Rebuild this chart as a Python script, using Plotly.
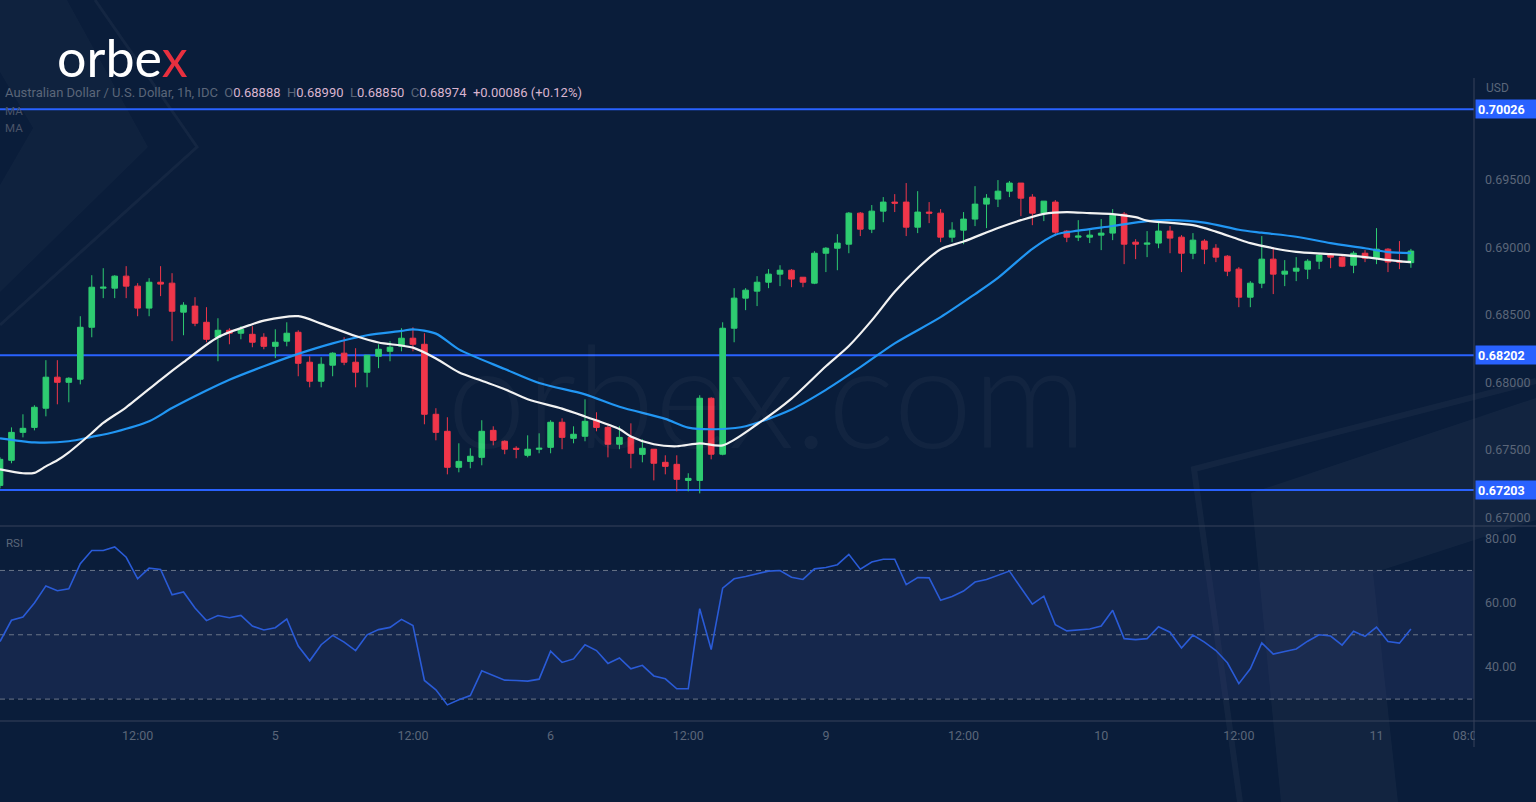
import plotly.graph_objects as go

# ---------------- data ----------------
bars = list(range(124))
opens = [0.67237, 0.67423, 0.67630, 0.67667, 0.67809, 0.68039, 0.68001, 0.68024, 0.68409, 0.68699,
         0.68699, 0.68788, 0.68714, 0.68551, 0.68743, 0.68736, 0.68521, 0.68566, 0.68446, 0.68335,
         0.68387, 0.68365, 0.68357, 0.68335, 0.68268, 0.68306, 0.68372, 0.68150, 0.68009, 0.68128,
         0.68217, 0.68150, 0.68076, 0.68194, 0.68231, 0.68268, 0.68328, 0.68283, 0.67764, 0.67638,
         0.67371, 0.67415, 0.67445, 0.67645, 0.67564, 0.67512, 0.67460, 0.67505, 0.67519, 0.67705,
         0.67586, 0.67601, 0.67720, 0.67667, 0.67542, 0.67593, 0.67467, 0.67505, 0.67408, 0.67393,
         0.67274, 0.67274, 0.67883, 0.67468, 0.68402, 0.68625, 0.68677, 0.68743, 0.68803, 0.68832,
         0.68780, 0.68736, 0.68958, 0.68995, 0.69025, 0.69255, 0.69136, 0.69270, 0.69337, 0.69337,
         0.69151, 0.69263, 0.69255, 0.69077, 0.69129, 0.69211, 0.69322, 0.69359, 0.69418, 0.69478,
         0.69374, 0.69255, 0.69337, 0.69122, 0.69077, 0.69077, 0.69092, 0.69107, 0.69248, 0.69040,
         0.69025, 0.69033, 0.69122, 0.69077, 0.68958, 0.69048, 0.68995, 0.68936, 0.68840, 0.68632,
         0.68736, 0.68914, 0.68803, 0.68825, 0.68840, 0.68899, 0.68944, 0.68929, 0.68869, 0.68958,
         0.68921, 0.68988, 0.68899, 0.68888]
highs = [0.67445, 0.67667, 0.67764, 0.67831, 0.68165, 0.68165, 0.68039, 0.68491, 0.68795, 0.68847,
         0.68795, 0.68862, 0.68736, 0.68773, 0.68862, 0.68810, 0.68595, 0.68632, 0.68558, 0.68476,
         0.68402, 0.68417, 0.68417, 0.68365, 0.68394, 0.68446, 0.68387, 0.68194, 0.68187, 0.68224,
         0.68335, 0.68254, 0.68202, 0.68283, 0.68306, 0.68402, 0.68409, 0.68365, 0.67809, 0.67742,
         0.67549, 0.67512, 0.67720, 0.67675, 0.67571, 0.67527, 0.67608, 0.67623, 0.67720, 0.67734,
         0.67675, 0.67875, 0.67779, 0.67682, 0.67675, 0.67697, 0.67579, 0.67505, 0.67460, 0.67460,
         0.67327, 0.67905, 0.67890, 0.68446, 0.68699, 0.68699, 0.68788, 0.68840, 0.68869, 0.68840,
         0.68780, 0.68973, 0.69003, 0.69099, 0.69263, 0.69263, 0.69315, 0.69374, 0.69396, 0.69478,
         0.69418, 0.69337, 0.69285, 0.69188, 0.69263, 0.69455, 0.69396, 0.69500, 0.69493, 0.69478,
         0.69396, 0.69344, 0.69352, 0.69129, 0.69203, 0.69136, 0.69211, 0.69285, 0.69263, 0.69062,
         0.69122, 0.69188, 0.69159, 0.69092, 0.69107, 0.69062, 0.69025, 0.68944, 0.68855, 0.68751,
         0.69085, 0.69003, 0.68907, 0.68929, 0.68914, 0.68958, 0.68958, 0.68936, 0.68973, 0.68981,
         0.69144, 0.68995, 0.69048, 0.68990]
lows = [0.67215, 0.67401, 0.67593, 0.67645, 0.67749, 0.67838, 0.67853, 0.67986, 0.68335, 0.68625,
        0.68625, 0.68625, 0.68491, 0.68491, 0.68640, 0.68306, 0.68350, 0.68417, 0.68298, 0.68157,
        0.68283, 0.68320, 0.68261, 0.68246, 0.68180, 0.68268, 0.68046, 0.67964, 0.67964, 0.68046,
        0.68128, 0.67964, 0.67964, 0.68106, 0.68157, 0.68231, 0.68231, 0.67690, 0.67571, 0.67319,
        0.67334, 0.67364, 0.67386, 0.67534, 0.67468, 0.67438, 0.67445, 0.67475, 0.67475, 0.67505,
        0.67549, 0.67564, 0.67638, 0.67445, 0.67505, 0.67364, 0.67408, 0.67274, 0.67319, 0.67193,
        0.67193, 0.67178, 0.67430, 0.67460, 0.68298, 0.68536, 0.68566, 0.68699, 0.68714, 0.68706,
        0.68706, 0.68729, 0.68818, 0.68832, 0.68958, 0.69085, 0.69107, 0.69188, 0.69263, 0.69085,
        0.69107, 0.69181, 0.69040, 0.69040, 0.69025, 0.69159, 0.69144, 0.69300, 0.69374, 0.69233,
        0.69166, 0.69196, 0.69085, 0.69040, 0.69048, 0.69033, 0.68981, 0.69055, 0.68877, 0.68914,
        0.68929, 0.68995, 0.68958, 0.68818, 0.68914, 0.68877, 0.68892, 0.68788, 0.68558, 0.68558,
        0.68699, 0.68655, 0.68714, 0.68751, 0.68766, 0.68840, 0.68847, 0.68855, 0.68810, 0.68892,
        0.68877, 0.68818, 0.68840, 0.68850]
closes = [0.67430, 0.67630, 0.67660, 0.67816, 0.68039, 0.68001, 0.68031, 0.68409, 0.68706, 0.68706,
          0.68788, 0.68714, 0.68551, 0.68743, 0.68729, 0.68528, 0.68573, 0.68439, 0.68320, 0.68387,
          0.68365, 0.68394, 0.68298, 0.68268, 0.68298, 0.68365, 0.68142, 0.68009, 0.68135, 0.68217,
          0.68150, 0.68076, 0.68202, 0.68246, 0.68261, 0.68328, 0.68283, 0.67764, 0.67630, 0.67371,
          0.67415, 0.67453, 0.67638, 0.67571, 0.67505, 0.67505, 0.67505, 0.67512, 0.67705, 0.67593,
          0.67616, 0.67712, 0.67667, 0.67542, 0.67593, 0.67475, 0.67512, 0.67401, 0.67378, 0.67282,
          0.67289, 0.67883, 0.67468, 0.68402, 0.68625, 0.68684, 0.68743, 0.68803, 0.68832, 0.68766,
          0.68743, 0.68958, 0.68995, 0.69033, 0.69255, 0.69136, 0.69270, 0.69337, 0.69329, 0.69151,
          0.69263, 0.69255, 0.69077, 0.69129, 0.69211, 0.69322, 0.69366, 0.69418, 0.69478, 0.69366,
          0.69255, 0.69344, 0.69114, 0.69077, 0.69085, 0.69092, 0.69107, 0.69240, 0.69025, 0.69025,
          0.69033, 0.69122, 0.69070, 0.68958, 0.69055, 0.68988, 0.68929, 0.68825, 0.68632, 0.68736,
          0.68914, 0.68803, 0.68825, 0.68847, 0.68899, 0.68944, 0.68929, 0.68862, 0.68958, 0.68921,
          0.68988, 0.68892, 0.68892, 0.68974]

ma_fast_bars = [0, 2, 3, 4, 5, 6, 8, 9, 11, 14, 16, 19, 22, 23, 26, 28, 31, 33, 36, 38, 40, 42, 44,
                46, 49, 51, 54, 55, 57, 59, 61, 63, 66, 69, 72, 74, 76, 78, 80, 82, 84, 87, 89, 91,
                93, 95, 97, 99, 100, 104, 106, 108, 109, 111, 113, 116, 119, 121, 123]
ma_fast = [0.67356, 0.67327, 0.67330, 0.67378, 0.67423, 0.67482, 0.67625, 0.67700, 0.67816, 0.68020,
           0.68150, 0.68335, 0.68432, 0.68458, 0.68491, 0.68436, 0.68344, 0.68296, 0.68258, 0.68178,
           0.68075, 0.68012, 0.67950, 0.67875, 0.67806, 0.67748, 0.67655, 0.67600, 0.67542, 0.67527,
           0.67549, 0.67534, 0.67690, 0.67880, 0.68120, 0.68270, 0.68460, 0.68672, 0.68847, 0.68988,
           0.69045, 0.69145, 0.69203, 0.69250, 0.69263, 0.69255, 0.69248, 0.69225, 0.69200, 0.69166,
           0.69118, 0.69060, 0.69033, 0.68995, 0.68968, 0.68951, 0.68929, 0.68907, 0.68892]

ma_slow_bars = [0, 3, 6, 8, 10, 13, 15, 18, 20, 23, 26, 29, 32, 35, 36, 38, 40, 44, 47, 51, 54, 58,
                60, 63, 65, 69, 72, 75, 78, 82, 85, 87, 90, 92, 94, 97, 100, 102, 105, 108, 110,
                113, 116, 119, 121, 123]
ma_slow = [0.67586, 0.67556, 0.67564, 0.67597, 0.67633, 0.67712, 0.67810, 0.67940, 0.68020, 0.68120,
           0.68212, 0.68290, 0.68350, 0.68382, 0.68394, 0.68362, 0.68245, 0.68100, 0.67996, 0.67912,
           0.67820, 0.67730, 0.67665, 0.67655, 0.67675, 0.67800, 0.67945, 0.68113, 0.68290, 0.68484,
           0.68655, 0.68775, 0.68990, 0.69095, 0.69125, 0.69160, 0.69196, 0.69203, 0.69185, 0.69132,
           0.69110, 0.69080, 0.69033, 0.68995, 0.68966, 0.68958]

rsi = [47.9, 54.5, 55.5, 59.9, 65.2, 63.7, 64.3, 72.1, 76.2, 76.2,
       77.3, 74.1, 67.4, 70.7, 70.3, 62.4, 63.3, 58.3, 54.4, 56.0,
       55.3, 56.0, 52.7, 51.5, 52.2, 54.9, 46.5, 41.9, 46.9, 49.8,
       47.7, 45.1, 50.0, 51.6, 52.3, 54.8, 52.9, 35.8, 32.9, 28.2,
       29.8, 31.1, 38.8, 37.4, 35.9, 35.8, 35.6, 36.2, 44.9, 41.4,
       42.5, 46.9, 45.1, 41.1, 42.8, 39.4, 40.5, 37.2, 36.3, 33.2,
       33.2, 58.1, 45.4, 64.5, 67.4, 68.1, 69.0, 69.8, 70.0, 67.9,
       67.2, 70.5, 70.9, 71.8, 75.0, 70.4, 72.6, 73.5, 73.5, 65.6,
       67.8, 67.7, 60.7, 61.9, 63.6, 66.4, 67.2, 68.4, 69.8, 64.6,
       59.5, 62.0, 53.1, 51.2, 51.6, 51.8, 52.7, 57.6, 48.8, 48.5,
       48.8, 52.5, 50.8, 45.9, 49.9, 47.7, 45.1, 41.3, 34.8, 39.4,
       47.5, 44.0, 44.8, 45.6, 48.0, 50.0, 49.6, 46.8, 51.1, 49.5,
       52.4, 47.9, 47.4, 51.8]

levels = [0.70026, 0.68202, 0.67203]
level_labels = ["0.70026", "0.68202", "0.67203"]
rsi_levels = [70, 50, 30]

time_tickvals = [0, 12, 24, 36, 48, 60, 72, 84, 96, 108, 120, 128]
time_ticktext = ["4", "12:00", "5", "12:00", "6", "12:00", "9", "12:00", "10", "12:00", "11", "08:00"]
price_tickvals = [0.670, 0.675, 0.680, 0.685, 0.690, 0.695]
price_ticktext = ["0.67000", "0.67500", "0.68000", "0.68500", "0.69000", "0.69500"]
rsi_tickvals = [40, 60, 80]
rsi_ticktext = ["40.00", "60.00", "80.00"]

# ---------------- style ----------------
W, H = 1536, 802
ML, MR, MT, MB = 0, 62, 80, 82
PW, PH = W - ML - MR, H - MT - MB
BG = "#0a1d3a"
GRAY = "#5b6679"
PINK = "#d9b4cf"
GREEN = "#2ecc71"
RED = "#f0364a"
LEVEL = "#2962ff"
AXLINE = "#36425a"


def px(x):
    return (x - ML) / PW


def py(y):
    return (MT + PH - y) / PH


fig = go.Figure()

fig.add_trace(go.Candlestick(
    x=bars, open=opens, high=highs, low=lows, close=closes,
    increasing=dict(line=dict(color=GREEN, width=1), fillcolor=GREEN),
    decreasing=dict(line=dict(color=RED, width=1), fillcolor=RED),
    whiskerwidth=0, xaxis="x", yaxis="y", showlegend=False, hoverinfo="skip",
))
fig.add_trace(go.Scatter(x=ma_slow_bars, y=ma_slow, mode="lines",
                         line=dict(color="#2196f3", width=2.2, shape="spline", smoothing=0.8),
                         xaxis="x", yaxis="y", showlegend=False, hoverinfo="skip"))
fig.add_trace(go.Scatter(x=ma_fast_bars, y=ma_fast, mode="lines",
                         line=dict(color="#f2f2f2", width=2.2, shape="spline", smoothing=0.8),
                         xaxis="x", yaxis="y", showlegend=False, hoverinfo="skip"))
fig.add_trace(go.Scatter(x=bars, y=rsi, mode="lines",
                         line=dict(color="#2a5bd7", width=1.6),
                         xaxis="x2", yaxis="y2", showlegend=False, hoverinfo="skip"))

shapes = []


def poly(points):
    return "M " + " L ".join(f"{px(x):.5f},{py(y):.5f}" for x, y in points) + " Z"


def path(points):
    return "M " + " L ".join(f"{px(x):.5f},{py(y):.5f}" for x, y in points)


# decorative background shapes
shapes.append(dict(type="path", xref="paper", yref="paper", layer="below",
                   path=poly([(67, 0), (148, 147), (0, 292), (0, 185), (33, 128), (0, 72), (0, 0)]),
                   fillcolor="rgba(255,255,255,0.025)", line=dict(width=0)))
shapes.append(dict(type="path", xref="paper", yref="paper", layer="below",
                   path=path([(95, 0), (197, 147), (0, 325)]),
                   line=dict(color="rgba(255,255,255,0.045)", width=3)))
shapes.append(dict(type="path", xref="paper", yref="paper", layer="below",
                   path=poly([(1536, 398), (1251, 493), (1281, 802), (1398, 802), (1373, 573), (1536, 520)]),
                   fillcolor="rgba(255,255,255,0.035)", line=dict(width=0)))
shapes.append(dict(type="path", xref="paper", yref="paper", layer="below",
                   path=path([(1536, 381), (1194, 469), (1240, 802)]),
                   line=dict(color="rgba(255,255,255,0.04)", width=6)))

# RSI band and dashed levels
shapes.append(dict(type="rect", xref="x2 domain", yref="y2", x0=0, x1=1, y0=30, y1=70,
                   layer="below", fillcolor="rgba(50,62,120,0.30)", line=dict(width=0)))
for lv in rsi_levels:
    shapes.append(dict(type="line", xref="x2 domain", yref="y2", x0=0, x1=1, y0=lv, y1=lv,
                       layer="below", line=dict(color="#6a7488", width=1, dash="5px,4px")))
# support / resistance levels
for lv in levels:
    shapes.append(dict(type="line", xref="x domain", yref="y", x0=0, x1=1, y0=lv, y1=lv,
                       layer="below", line=dict(color=LEVEL, width=2)))
# pane separators and axis line
shapes.append(dict(type="line", xref="paper", yref="paper", x0=0, x1=px(W), y0=py(526), y1=py(526),
                   line=dict(color=AXLINE, width=1)))
shapes.append(dict(type="line", xref="paper", yref="paper", x0=0, x1=px(W), y0=py(721), y1=py(721),
                   line=dict(color=AXLINE, width=1)))
shapes.append(dict(type="line", xref="paper", yref="paper", x0=1, x1=1, y0=py(78), y1=py(747),
                   line=dict(color=AXLINE, width=1)))
shapes.append(dict(type="rect", xref="paper", yref="paper", x0=px(1475), x1=px(1500),
                   y0=py(726), y1=py(750), fillcolor=BG, line=dict(width=0), layer="above"))

annotations = []
for lv, lab in zip(levels, level_labels):
    annotations.append(dict(x=1, xref="paper", xanchor="left", xshift=1, y=lv, yref="y",
                            yanchor="middle", text=f"<b>{lab}</b>", showarrow=False,
                            font=dict(color="white", size=12.5, family="Roboto"),
                            bgcolor=LEVEL, borderpad=2, width=56, height=14, align="left"))
annotations.append(dict(x=1, xref="paper", xanchor="left", xshift=10, y=py(88), yref="paper",
                        yanchor="middle", text="USD", showarrow=False,
                        font=dict(color=GRAY, size=12, family="Roboto")))
sp = "\u00a0"
hdr = (f"<span style='color:{GRAY}'>Australian Dollar / U.S. Dollar, 1h, IDC{sp}{sp}O</span>"
       f"<span style='color:{PINK}'>0.68888</span>"
       f"<span style='color:{GRAY}'>{sp}{sp}H</span><span style='color:{PINK}'>0.68990</span>"
       f"<span style='color:{GRAY}'>{sp}{sp}L</span><span style='color:{PINK}'>0.68850</span>"
       f"<span style='color:{GRAY}'>{sp}{sp}C</span><span style='color:{PINK}'>0.68974{sp}{sp}+0.00086 (+0.12%)</span>")
annotations.append(dict(x=px(3), xref="paper", xanchor="left", y=py(92), yref="paper",
                        yanchor="middle", text=hdr, showarrow=False,
                        font=dict(size=13, family="Roboto", color=GRAY)))
annotations.append(dict(x=px(3), xref="paper", xanchor="left", y=py(111), yref="paper",
                        yanchor="middle", text="MA", showarrow=False,
                        font=dict(size=11.5, family="Roboto", color="#4a5468")))
annotations.append(dict(x=px(3), xref="paper", xanchor="left", y=py(128), yref="paper",
                        yanchor="middle", text="MA", showarrow=False,
                        font=dict(size=11.5, family="Roboto", color="#4a5468")))
annotations.append(dict(x=px(4), xref="paper", xanchor="left", y=py(543), yref="paper",
                        yanchor="middle", text="RSI", showarrow=False,
                        font=dict(size=11.5, family="Roboto", color="#5b6679")))
# logo
annotations.append(dict(x=px(55), xref="paper", xanchor="left", y=py(57), yref="paper",
                        yanchor="middle", text="orbe<span style='color:#e8303f'>x</span>",
                        showarrow=False, font=dict(size=52, family="Lato", color="white")))
# watermark
annotations.append(dict(x=px(767), xref="paper", xanchor="center", y=py(393), yref="paper",
                        yanchor="middle", text="orbex.com", showarrow=False,
                        font=dict(size=142, family="Lato", color="rgba(255,255,255,0.035)", weight=300)))

fig.update_layout(
    width=W, height=H, margin=dict(l=ML, r=MR, t=MT, b=MB),
    paper_bgcolor=BG, plot_bgcolor=BG, showlegend=False,
    shapes=shapes, annotations=annotations,
    xaxis=dict(domain=[0, 1], range=[0, 128.5], anchor="y", showgrid=False, zeroline=False,
               showticklabels=False, rangeslider=dict(visible=False), showline=False),
    xaxis2=dict(domain=[0, 1], range=[0, 128.5], anchor="y2", matches="x", showgrid=False,
                zeroline=False, tickmode="array", tickvals=time_tickvals, ticktext=time_ticktext,
                tickfont=dict(color=GRAY, size=12.5, family="Roboto"), ticks="",
                ticklabelstandoff=6, showline=False),
    yaxis=dict(domain=[0.3025, 1], range=[0.66933, 0.70242], side="right", anchor="x",
               showgrid=False, zeroline=False, tickmode="array", tickvals=price_tickvals,
               ticktext=price_ticktext, tickfont=dict(color=GRAY, size=12.5, family="Roboto"),
               ticks="", ticklabelstandoff=10, showline=False),
    yaxis2=dict(domain=[0, 0.3], range=[23.5, 83.2], side="right", anchor="x2",
                showgrid=False, zeroline=False, tickmode="array", tickvals=rsi_tickvals,
                ticktext=rsi_ticktext, tickfont=dict(color=GRAY, size=12.5, family="Roboto"),
                ticks="", ticklabelstandoff=10, showline=False),
)

fig.write_html("out.html", config={"displayModeBar": False},
               post_script="document.body.style.margin='0';")
